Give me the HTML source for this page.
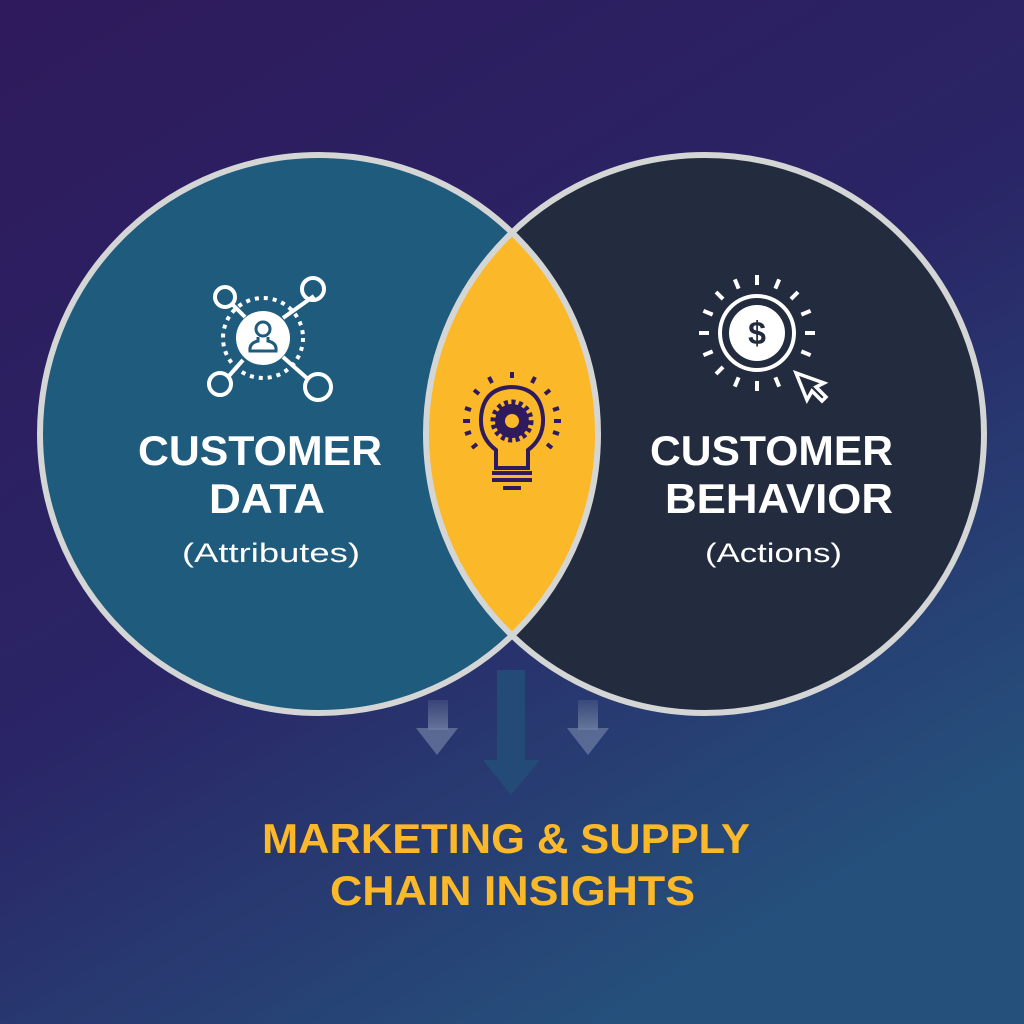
<!DOCTYPE html>
<html><head><meta charset="utf-8"><style>
html,body{margin:0;padding:0;width:1024px;height:1024px;overflow:hidden}
svg{display:block}
text{font-family:"Liberation Sans",sans-serif}
</style></head><body>
<svg width="1024" height="1024" viewBox="0 0 1024 1024" xmlns="http://www.w3.org/2000/svg">
<defs>
<linearGradient id="bg" x1="0" y1="0" x2="0.6" y2="1">
<stop offset="0" stop-color="#2e1a5c"/>
<stop offset="0.55" stop-color="#2a2566"/>
<stop offset="1" stop-color="#25507c"/>
</linearGradient>
<clipPath id="lc"><circle cx="319" cy="434" r="279"/></clipPath>
<linearGradient id="ag" x1="0" y1="0" x2="0" y2="1">
<stop offset="0" stop-color="#7a8aa8" stop-opacity="0.2"/>
<stop offset="1" stop-color="#7a8aa8" stop-opacity="0.75"/>
</linearGradient>
</defs>
<rect width="1024" height="1024" fill="url(#bg)"/>
<!-- arrows -->
<rect x="497" y="670" width="28" height="92" fill="#244a78"/>
<polygon points="483,760 540,760 511,795" fill="#244a78"/>
<rect x="428" y="700" width="20" height="30" fill="url(#ag)"/>
<polygon points="416,728 458,728 437,755" fill="#6a7ba0" opacity="0.75"/>
<rect x="578" y="700" width="20" height="30" fill="url(#ag)"/>
<polygon points="567,728 609,728 588,755" fill="#6a7ba0" opacity="0.75"/>
<!-- circles -->
<circle cx="319" cy="434" r="279" fill="#1f5b7d"/>
<circle cx="705" cy="434" r="279" fill="#232b3e"/>
<circle cx="705" cy="434" r="279" fill="#fbb829" clip-path="url(#lc)"/>
<circle cx="319" cy="434" r="279" fill="none" stroke="#d4d6d6" stroke-width="6"/>
<circle cx="705" cy="434" r="279" fill="none" stroke="#d4d6d6" stroke-width="6"/>
<!-- network icon -->
<g stroke="#fff" stroke-width="4" fill="none">
<line x1="233" y1="305" x2="245" y2="317"/><line x1="314" y1="296" x2="283" y2="318"/>
<line x1="228" y1="377" x2="243" y2="360"/><line x1="309" y1="380" x2="283" y2="357"/>
<circle cx="225" cy="297" r="10"/><circle cx="313" cy="289" r="11"/>
<circle cx="220" cy="384" r="11"/><circle cx="318" cy="387" r="13"/>
<circle cx="263" cy="338" r="40" stroke-dasharray="4 5" stroke-width="4"/>
</g>
<circle cx="263" cy="338" r="27" fill="#fff"/>
<g stroke="#1f5b7d" stroke-width="3" fill="none">
<circle cx="263" cy="329" r="7"/>
<path d="M258 337 L258 341 Q249 343 250 351 L276 351 Q277 343 268 341 L268 337"/>
</g>
<!-- lightbulb -->
<g stroke="#2e1a5c" stroke-width="4" fill="none" stroke-linecap="butt">
<path d="M496 468 L496 450 Q480 438 481 418 Q483 388 512 387 Q541 388 543 418 Q544 438 528 450 L528 468 Z"/>
<line x1="492" y1="473" x2="532" y2="473"/><line x1="492" y1="480" x2="532" y2="480"/><line x1="503" y1="488" x2="521" y2="488"/>
<g stroke-width="4">
<line x1="512" y1="372" x2="512" y2="378"/>
<line x1="489" y1="377" x2="492" y2="383"/><line x1="535" y1="377" x2="532" y2="383"/>
<line x1="474" y1="390" x2="479" y2="394"/><line x1="550" y1="390" x2="545" y2="394"/>
<line x1="465" y1="408" x2="471" y2="410"/><line x1="559" y1="408" x2="553" y2="410"/>
<line x1="463" y1="421" x2="470" y2="421"/><line x1="561" y1="421" x2="554" y2="421"/>
<line x1="465" y1="434" x2="471" y2="432"/><line x1="559" y1="434" x2="553" y2="432"/>
<line x1="472" y1="448" x2="477" y2="444"/><line x1="552" y1="448" x2="547" y2="444"/>
</g>
</g>
<circle cx="512" cy="421" r="17" fill="#2e1a5c"/>
<circle cx="512" cy="421" r="19" fill="none" stroke="#2e1a5c" stroke-width="5" stroke-dasharray="4 3.4"/>
<circle cx="512" cy="421" r="7" fill="#fbb829"/>
<!-- dollar icon -->
<g stroke="#fff" stroke-width="4" fill="none">
<circle cx="757" cy="333" r="37"/>
<g transform="translate(757,333)">
<line x1="0" y1="-48" x2="0" y2="-58" transform="rotate(0)"/>
<line x1="0" y1="-48" x2="0" y2="-58" transform="rotate(22.5)"/>
<line x1="0" y1="-48" x2="0" y2="-58" transform="rotate(45)"/>
<line x1="0" y1="-48" x2="0" y2="-58" transform="rotate(67.5)"/>
<line x1="0" y1="-48" x2="0" y2="-58" transform="rotate(90)"/>
<line x1="0" y1="-48" x2="0" y2="-58" transform="rotate(112.5)"/>
<line x1="0" y1="-48" x2="0" y2="-58" transform="rotate(157.5)"/>
<line x1="0" y1="-48" x2="0" y2="-58" transform="rotate(180)"/>
<line x1="0" y1="-48" x2="0" y2="-58" transform="rotate(202.5)"/>
<line x1="0" y1="-48" x2="0" y2="-58" transform="rotate(225)"/>
<line x1="0" y1="-48" x2="0" y2="-58" transform="rotate(247.5)"/>
<line x1="0" y1="-48" x2="0" y2="-58" transform="rotate(270)"/>
<line x1="0" y1="-48" x2="0" y2="-58" transform="rotate(292.5)"/>
<line x1="0" y1="-48" x2="0" y2="-58" transform="rotate(315)"/>
<line x1="0" y1="-48" x2="0" y2="-58" transform="rotate(337.5)"/>
</g>
<path d="M796 373 L807 400 L812 391 L822 401 L826 397 L816 387 L824 383 Z" stroke-width="3.5" stroke-linejoin="miter"/>
</g>
<circle cx="757" cy="333" r="28" fill="#fff"/>
<text x="757" y="344" font-size="32" font-weight="bold" fill="#232b3e" text-anchor="middle">$</text>
<!-- labels -->
<g fill="#fff" font-weight="bold" font-size="42">
<text x="138" y="465" textLength="244" lengthAdjust="spacingAndGlyphs">CUSTOMER</text>
<text x="209" y="513" textLength="116" lengthAdjust="spacingAndGlyphs">DATA</text>
<text x="650" y="465" textLength="243" lengthAdjust="spacingAndGlyphs">CUSTOMER</text>
<text x="665" y="513" textLength="228" lengthAdjust="spacingAndGlyphs">BEHAVIOR</text>
</g>
<g fill="#fff" font-size="27">
<text x="182" y="562" textLength="178" lengthAdjust="spacingAndGlyphs">(Attributes)</text>
<text x="705" y="562" textLength="137" lengthAdjust="spacingAndGlyphs">(Actions)</text>
</g>
<g fill="#fbb829" font-weight="bold" font-size="42">
<text x="262" y="853" textLength="488" lengthAdjust="spacingAndGlyphs">MARKETING &amp; SUPPLY</text>
<text x="330" y="905" textLength="365" lengthAdjust="spacingAndGlyphs">CHAIN INSIGHTS</text>
</g>
</svg>
</body></html>
